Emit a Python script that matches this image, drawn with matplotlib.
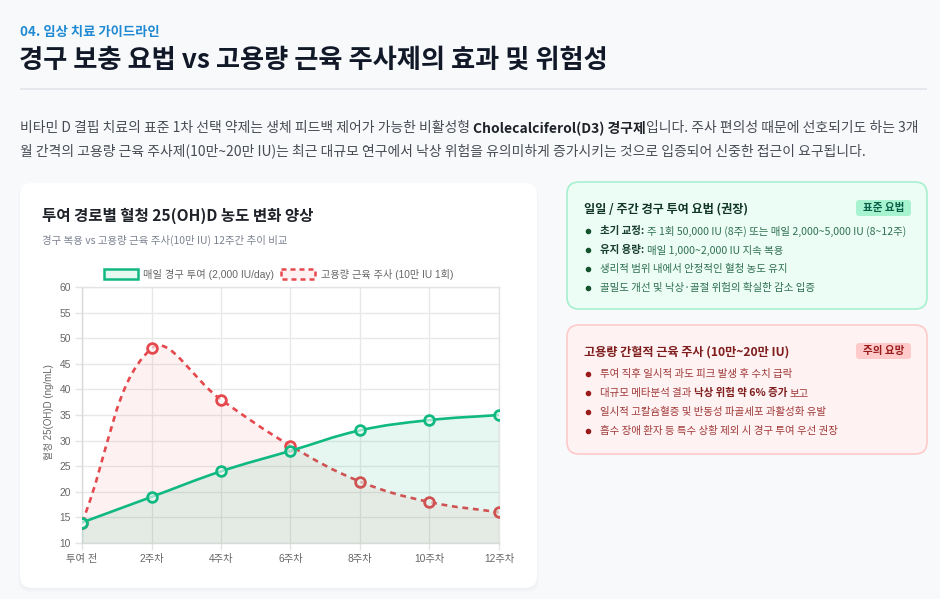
import numpy as np
import matplotlib
matplotlib.use('Agg')
import matplotlib.pyplot as plt
from matplotlib.patches import FancyBboxPatch, PathPatch, Rectangle
from matplotlib.path import Path

KR = 'Noto Sans CJK KR'
plt.rcParams['font.family'] = [KR, 'DejaVu Sans']
TICKFONT = ['Liberation Sans', KR]

# ---- data ----
weeks = ['투여 전', '2주차', '4주차', '6주차', '8주차', '10주차', '12주차']
oral = [14, 19, 24, 28, 32, 34, 35]
injection = [14, 48, 38, 29, 22, 18, 16]
oral_label = '매일 경구 투여 (2,000 IU/day)'
inj_label = '고용량 근육 주사 (10만 IU 1회)'
y_ticks = list(range(10, 61, 5))

GREEN = '#10b981'
RED = '#e5484d'

W, H = 940, 599
fig = plt.figure(figsize=(W / 100, H / 100), dpi=100)
fig.patch.set_facecolor('#f8f9fb')
bg = fig.add_axes([0, 0, 1, 1])
bg.set_xlim(0, W)
bg.set_ylim(H, 0)
bg.axis('off')
renderer = fig.canvas.get_renderer()


def text_w(s, size, weight='normal', family=None):
    t = bg.text(0, 0, s, fontsize=size, fontweight=weight,
                family=family or [KR, 'DejaVu Sans'])
    w = t.get_window_extent(renderer).width
    t.remove()
    return w


def runs(x, y, parts, size):
    # parts: (text, weight, color); leading space -> measured gap
    for txt, weight, color in parts:
        if txt.startswith(' '):
            x += text_w('가 가', size, weight) - text_w('가가', size, weight)
            txt = txt[1:]
        t = bg.text(x, y, txt, fontsize=size, fontweight=weight, color=color,
                    va='center', ha='left')
        x += t.get_window_extent(renderer).width
    return x


def rbox(x, y, w, h, r, fc, ec='none', lw=0, z=1, alpha=1.0):
    p = FancyBboxPatch((x, y), w, h, boxstyle=f'round,pad=0,rounding_size={r}',
                       fc=fc, ec=ec, lw=lw, zorder=z, alpha=alpha)
    bg.add_patch(p)
    return p


# ---- header ----
bg.text(20, 32, '04. 임상 치료 가이드라인', fontsize=9.6, fontweight='bold',
        color='#1f8ad3', va='center')
bg.text(19, 60, '경구 보충 요법 vs 고용량 근육 주사제의 효과 및 위험성',
        fontsize=18.9, fontweight='bold', color='#111827', va='center')
bg.add_patch(Rectangle((20, 88), 907, 2, fc='#e6e8ee', ec='none'))

PC = '#474b53'
runs(20, 128, [('비타민 D 결핍 치료의 표준 1차 선택 약제는 생체 피드백 제어가 가능한 비활성형', 'normal', PC),
               (' Cholecalciferol(D3) 경구제', 'bold', '#1f2329'),
               ('입니다. 주사 편의성 때문에 선호되기도 하는 3개', 'normal', PC)], 9.97)
runs(20, 151, [('월 간격의 고용량 근육 주사제(10만~20만 IU)는 최근 대규모 연구에서 낙상 위험을 유의미하게 '
                '증가시키는 것으로 입증되어 신중한 접근이 요구됩니다.', 'normal', PC)], 9.95)

# ---- chart card ----
for i, a in enumerate([0.035, 0.03, 0.025]):
    rbox(20 - i, 184 + i, 517 + 2 * i, 406, 12, '#9aa3b5', z=1, alpha=a)
rbox(20, 183, 517, 405, 12, 'white', z=2)

bg.text(42, 216, '투여 경로별 혈청 25(OH)D 농도 변화 양상', fontsize=11.2,
        fontweight='bold', color='#1f2329', va='center')
bg.text(42, 240, '경구 복용 vs 고용량 근육 주사(10만 IU) 12주간 추이 비교',
        fontsize=7.5, color='#7b8190', va='center')

# legend
bg.add_patch(Rectangle((104, 269), 34, 10, fc='#e7f8f1', ec=GREEN, lw=1.8, zorder=3))
bg.text(143, 274, oral_label, fontsize=7.4, color='#666666', va='center',
        family=TICKFONT, zorder=3)
bg.add_patch(Rectangle((281, 269), 34, 10, fc='#fff1f1', ec=RED, lw=1.8,
                       ls=(0, (2, 1.6)), zorder=3))
bg.text(321, 274, inj_label, fontsize=7.3, color='#666666', va='center',
        family=TICKFONT, zorder=3)
bg.text(49, 412, '혈청 25(OH)D (ng/mL)', fontsize=7, color='#666666', rotation=90,
        va='center', ha='center', family=TICKFONT, zorder=3)

# ---- plot ----
L, R, T, B = 82, 499, 287, 543
ax = fig.add_axes([L / W, 1 - B / H, (R - L) / W, (B - T) / H])
ax.set_facecolor('none')
ax.set_zorder(3)
ax.set_xlim(0, len(weeks) - 1)
ax.set_ylim(10, 60)
ax.set_xticks(range(len(weeks)))
ax.set_xticklabels(weeks, family=TICKFONT)
ax.set_yticks(y_ticks)
ax.set_yticklabels([str(v) for v in y_ticks], family=TICKFONT)
ax.tick_params(length=5, width=1, color='#e4e4e4', labelsize=7.4,
               labelcolor='#666666', pad=3)
ax.grid(True, color='#e8e8e8', lw=1)
for s in ax.spines.values():
    s.set_color('#e4e4e4')
    s.set_linewidth(1)
ax.spines['left'].set_color('#d9d9d9')
ax.spines['bottom'].set_color('#d9d9d9')
ax.set_axisbelow(True)

sx, sy = (R - L) / (len(weeks) - 1), (B - T) / 50.0


def spline(vals, t=0.4):
    X = np.arange(len(vals)) * sx
    Y = np.array(vals, float) * sy
    n = len(vals)
    cp, cn = [], []
    for i in range(n):
        p, nx = max(i - 1, 0), min(i + 1, n - 1)
        d01 = np.hypot(X[i] - X[p], Y[i] - Y[p])
        d12 = np.hypot(X[nx] - X[i], Y[nx] - Y[i])
        fa = t * d01 / (d01 + d12)
        fb = t * d12 / (d01 + d12)
        cp.append((X[i] - fa * (X[nx] - X[p]), Y[i] - fa * (Y[nx] - Y[p])))
        cn.append((X[i] + fb * (X[nx] - X[p]), Y[i] + fb * (Y[nx] - Y[p])))
    verts = [(X[0], Y[0])]
    for i in range(n - 1):
        verts += [cn[i], cp[i + 1], (X[i + 1], Y[i + 1])]
    verts = [(x / sx, min(max(y / sy, 10), 60)) for x, y in verts]
    codes = [Path.MOVETO] + [Path.CURVE4] * (3 * (n - 1))
    return verts, codes


def draw_series(vals, color, fill, ls, z):
    verts, codes = spline(vals)
    fv = [(0, 10)] + verts + [(len(vals) - 1, 10), (0, 10)]
    fc = [Path.MOVETO, Path.LINETO] + codes[1:] + [Path.LINETO, Path.CLOSEPOLY]
    ax.add_patch(PathPatch(Path(fv, fc), fc=fill, ec='none', zorder=z))
    ax.add_patch(PathPatch(Path(verts, codes), fill=False, ec=color, lw=1.9,
                           ls=ls, zorder=z + 0.5, capstyle='butt'))
    ax.plot(range(len(vals)), vals, 'o', ms=7, mfc=(1, 1, 1, 0.6), mec=color,
            mew=2, ls='none', zorder=z + 0.6)


draw_series(injection, RED, (0.937, 0.267, 0.267, 0.07), (0, (2.2, 1.8)), 2)
draw_series(oral, GREEN, (0.063, 0.725, 0.506, 0.10), '-', 3)

# ---- right cards ----
def card(y, h, bgc, edge, title, tcol, badge, bbg, bcol, items, dot, tx, bold_col):
    rbox(567, y, 360, h, 12, bgc, ec=edge, lw=1.2, z=2)
    bg.text(584, y + 27, title, fontsize=8.75, fontweight='bold', color=tcol,
            va='center', zorder=3)
    rbox(856, y + 18, 55, 16, 3, bbg, z=3)
    bg.text(883.5, y + 26, badge, fontsize=7.6, fontweight='bold', color=bcol,
            va='center', ha='center', zorder=4)
    for k, parts in enumerate(items):
        yy = y + 49 + k * 19
        bg.plot(588, yy, 'o', ms=3, color=dot, zorder=3)
        runs(600, yy, [(s, wgt, bold_col if wgt == 'bold' else tx) for s, wgt in parts], 7.55)


card(182, 127, '#ecfdf5', '#a7f0cf', '일일 / 주간 경구 투여 요법 (권장)', '#12352a',
     '표준 요법', '#a7f3d0', '#065f46',
     [[('초기 교정:', 'bold'), (' 주 1회 50,000 IU (8주) 또는 매일 2,000~5,000 IU (8~12주)', 'normal')],
      [('유지 용량:', 'bold'), (' 매일 1,000~2,000 IU 지속 복용', 'normal')],
      [('생리적 범위 내에서 안정적인 혈청 농도 유지', 'normal')],
      [('골밀도 개선 및 낙상·골절 위험의 확실한 감소 입증', 'normal')]],
     '#14532d', '#2f6f52', '#173d2e')

card(325, 129, '#fef2f2', '#fecaca', '고용량 간헐적 근육 주사 (10만~20만 IU)', '#7f1d1d',
     '주의 요망', '#fecaca', '#991b1b',
     [[('투여 직후 일시적 과도 피크 발생 후 수치 급락', 'normal')],
      [('대규모 메타분석 결과', 'normal'), (' 낙상 위험 약 6% 증가', 'bold'), (' 보고', 'normal')],
      [('일시적 고칼슘혈증 및 반동성 파골세포 과활성화 유발', 'normal')],
      [('흡수 장애 환자 등 특수 상황 제외 시 경구 투여 우선 권장', 'normal')]],
     '#991b1b', '#a13a3a', '#7f1d1d')

fig.savefig('out.png', dpi=100, facecolor=fig.get_facecolor())
